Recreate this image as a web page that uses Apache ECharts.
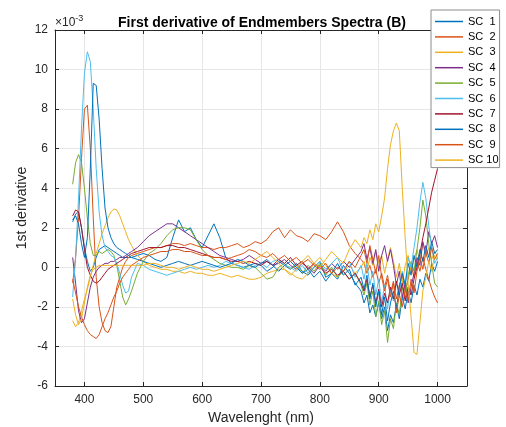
<!DOCTYPE html>
<html>
<head>
<meta charset="utf-8">
<script src="https://cdn.jsdelivr.net/npm/echarts@6/dist/echarts.min.js"></script>
<style>
html,body{margin:0;padding:0;background:#fff;}
#chart{width:506px;height:427px;}
</style>
</head>
<body>
<div id="chart"></div>
<script>
// Wavelength grid (nm)
const wavelengths = [
  380,385,390,395,400,405,410,415,420,425,430,435,440,445,450,455,460,465,470,475,480,
  490,500,510,520,530,540,550,560,570,580,590,600,610,620,630,640,650,660,670,680,690,700,710,720,730,740,750,760,770,780,790,800,810,820,830,840,850,860,870,
  875,880,885,890,895,900,905,910,915,920,925,930,935,940,945,950,955,960,965,970,975,980,985,990,995,1000
];
// First derivative values (x 10^-3)
const sc1 = [
  2.3,2.7,2.8,2.0,1.0,0.3,-0.2,0.0,0.5,0.9,1.0,1.1,1.0,0.9,0.8,0.7,0.6,0.5,0.5,0.5,0.5,
  0.6,0.7,0.6,0.4,0.3,0.5,1.5,2.4,1.8,2.0,1.4,1.0,1.6,2.2,1.5,0.5,0.2,0.1,0.0,0.1,0.2,0.1,-0.2,0.0,0.3,0.1,-0.1,0.2,-0.2,-0.4,0.0,0.3,-0.5,-0.3,-0.6,0.1,-0.3,-0.8,-1.2,
  -1.8,-1.4,-2.3,-1.9,-2.5,-1.8,-2.6,-2.0,-3.2,-2.4,-2.8,-1.9,-2.6,-1.5,-2.1,-1.2,-1.8,-0.9,-1.4,-0.6,-1.0,-0.3,-0.7,0.2,-0.2,0.3
];
const sc2 = [
  -0.8,0.5,2.5,5.5,8.0,8.2,6.0,2.5,-0.5,-2.0,-2.8,-3.2,-3.3,-3.0,-2.0,-1.0,-0.5,0.0,0.3,0.5,0.6,
  0.7,0.8,0.9,1.0,1.0,1.1,1.2,1.2,1.1,1.2,1.1,1.0,1.0,0.9,1.0,1.0,1.1,1.2,1.0,1.1,1.3,1.2,1.4,1.8,2.0,1.5,1.9,1.6,1.5,1.3,1.7,1.6,1.4,1.8,2.3,1.8,1.1,0.7,0.4,
  0.2,-0.3,0.1,-0.5,-0.1,-0.8,-0.3,-1.0,-0.4,-1.3,-0.7,-1.6,-0.9,-0.4,-1.2,-0.6,0.1,-0.5,0.3,-0.2,0.5,-0.1,-0.6,-1.1,-1.5,-1.8
];
const sc3 = [
  -2.7,-3.0,-2.8,-2.2,-1.6,-1.1,-0.5,0.1,0.7,1.2,1.7,2.1,2.5,2.8,2.95,2.9,2.6,2.2,1.8,1.4,1.1,
  0.6,0.3,0.1,0.0,-0.1,-0.1,-0.2,-0.2,-0.3,-0.2,-0.3,-0.3,-0.4,-0.4,-0.3,-0.4,-0.5,-0.4,-0.5,-0.6,-0.6,-0.5,-0.3,-0.2,-0.1,-0.1,-0.3,-0.5,-0.6,-0.3,0.2,0.5,0.1,-0.3,-0.5,-0.2,0.1,-0.3,0.0,
  0.3,-0.2,0.5,0.1,0.8,0.2,0.6,-0.3,0.4,1.0,0.3,-0.5,0.2,-0.8,0.1,0.6,-0.2,0.4,0.9,0.3,1.2,0.5,1.0,0.4,0.8,0.5
];
const sc4 = [
  0.5,-0.8,-2.2,-2.8,-2.6,-1.8,-1.0,-0.5,-0.2,0.0,0.1,0.2,0.2,0.3,0.3,0.4,0.5,0.5,0.6,0.7,0.8,
  1.0,1.3,1.6,1.8,2.0,2.2,2.2,2.0,1.8,1.6,1.4,1.2,1.0,0.8,0.6,0.5,0.4,0.3,0.4,0.6,0.4,0.2,0.3,0.1,0.2,0.4,0.1,-0.1,0.2,0.0,-0.3,0.1,-0.2,0.2,-0.1,0.3,0.0,0.4,0.8,
  1.2,0.4,1.0,0.2,0.9,-0.2,0.6,1.1,0.3,0.9,0.1,-0.9,-0.2,-1.5,-0.8,-1.8,-1.0,-0.3,0.5,0.1,1.3,0.7,1.8,1.2,1.6,1.0
];
const sc5 = [
  4.2,5.3,5.7,5.3,4.0,2.5,1.2,0.6,0.6,0.8,0.7,0.8,0.9,0.8,0.6,0.1,-0.7,-1.5,-1.9,-1.6,-1.2,
  -0.3,0.3,0.7,0.9,1.2,1.6,1.9,2.0,2.0,1.9,1.4,0.9,0.6,0.4,0.2,0.1,0.0,0.0,-0.1,0.1,0.0,-0.3,-0.6,-0.5,0.0,0.2,-0.1,0.1,-0.3,0.1,-0.2,0.2,-0.4,0.0,-0.5,-0.2,-0.6,-0.3,-0.9,
  -1.4,-0.8,-1.9,-1.2,-2.5,-1.7,-2.9,-2.2,-3.8,-2.6,-3.1,-1.8,-2.4,-1.0,-1.6,-0.4,0.3,-0.2,0.9,2.0,3.4,2.6,1.2,0.2,-0.8,-1.0
];
const sc6 = [
  -1.5,0.5,3.5,7.0,9.8,10.9,10.4,8.0,5.0,2.8,1.6,1.0,0.8,0.6,0.5,0.2,-0.3,-0.9,-1.3,-1.2,-0.5,
  0.2,0.1,-0.1,-0.2,-0.3,-0.4,-0.3,-0.2,-0.1,0.0,-0.1,0.0,0.1,0.0,0.1,0.3,0.2,0.1,0.0,-0.1,0.1,0.2,0.0,0.3,0.4,0.1,0.0,-0.2,0.1,-0.3,0.0,0.3,-0.1,0.2,0.5,-0.2,0.3,-0.5,0.1,
  -0.6,0.2,-0.9,-0.2,-1.4,-0.6,-1.8,-0.9,-2.1,-1.1,-1.7,-0.8,-1.3,-0.2,-0.9,0.5,0.0,1.0,2.0,3.3,4.3,3.5,2.1,1.0,0.2,0.5
];
const sc7 = [
  2.6,2.9,2.8,2.0,0.9,0.0,-0.4,-0.7,-0.8,-0.7,-0.5,-0.3,-0.1,0.0,0.1,0.2,0.3,0.4,0.5,0.6,0.7,
  0.8,0.9,1.0,1.0,1.0,1.1,1.1,1.0,1.0,0.9,0.8,0.7,0.6,0.5,0.5,0.4,0.3,0.3,0.2,0.3,0.2,0.1,0.3,0.1,0.4,0.2,0.5,0.1,0.3,-0.1,0.2,0.0,-0.3,-0.1,-0.4,-0.2,-0.6,-0.3,-0.8,
  -1.2,-0.6,-1.5,-0.9,-1.8,-1.1,-2.0,-1.3,-1.8,-1.0,-1.6,-0.7,-1.4,-0.8,-1.7,-1.0,-1.4,-0.6,0.0,0.7,1.5,2.2,3.0,3.8,4.4,5.0
];
const sc8 = [
  2.4,2.6,2.2,1.2,0.5,1.5,5.0,9.3,9.2,7.5,5.0,3.0,2.0,1.5,1.2,1.0,0.9,0.8,0.7,0.6,0.5,
  0.4,0.3,0.2,0.1,0.0,0.1,0.2,0.3,0.2,0.1,0.2,0.3,0.2,0.1,0.0,0.1,0.2,0.4,0.3,0.1,0.0,0.2,0.4,0.1,-0.2,0.1,0.3,0.0,-0.3,-0.1,-0.5,-0.2,-0.7,-0.3,0.2,-0.4,-0.1,-0.9,-0.5,
  -1.1,-0.4,-1.6,-0.8,-2.0,-1.2,-2.4,-1.5,-2.7,-1.8,-1.2,-2.1,-1.0,-0.3,-0.9,0.2,-0.4,0.6,0.0,0.9,0.3,1.1,0.5,1.3,0.7,0.9
];
const sc9 = [
  -0.6,-1.3,-2.0,-2.5,-2.9,-3.2,-3.4,-3.5,-3.6,-3.4,-3.0,-2.6,-2.3,-1.9,-1.5,-1.2,-0.8,-0.5,-0.3,-0.1,0.1,
  0.3,0.5,0.6,0.7,0.8,0.8,0.9,0.9,0.8,0.8,0.7,0.6,0.6,0.5,0.5,0.4,0.5,0.6,0.7,0.9,0.8,0.6,0.5,0.7,0.4,0.6,0.3,0.5,0.2,0.4,0.1,-0.1,0.2,-0.3,0.0,-0.2,0.3,0.0,0.6,
  0.9,0.2,1.1,0.4,-0.3,0.6,-0.5,-1.2,-0.6,-1.5,-0.8,-2.3,-1.4,-2.0,-1.1,-1.7,-0.6,-1.3,-0.2,0.5,-0.1,0.8,0.2,1.0,0.4,0.7
];
const sc10 = [
  -1.6,-2.4,-2.9,-2.6,-1.8,-1.0,-0.4,-0.1,0.0,0.1,0.1,0.1,0.1,0.1,0.1,0.1,0.1,0.1,0.1,0.1,0.1,
  0.1,0.1,0.2,0.2,0.1,0.0,0.0,-0.1,0.0,0.1,0.0,-0.1,-0.1,-0.2,-0.1,0.0,0.1,0.2,0.3,0.2,0.4,0.6,0.8,0.5,0.2,-0.1,-0.4,-0.1,0.3,0.6,0.2,0.0,0.4,0.8,0.5,0.2,0.9,1.4,1.0,
  1.5,1.2,1.9,1.4,2.2,1.8,2.6,3.5,5.0,6.2,6.9,7.3,6.9,4.0,1.5,-0.8,-2.5,-4.3,-4.4,-2.8,-1.2,-0.5,0.3,-0.2,0.6,0.4
];
const seriesNames = ['SC  1','SC  2','SC  3','SC  4','SC  5','SC  6','SC  7','SC  8','SC  9','SC 10'];
const seriesValues = [sc1, sc2, sc3, sc4, sc5, sc6, sc7, sc8, sc9, sc10];
const seriesColors = ['#0072BD','#D95319','#EDB120','#7E2F8E','#77AC30','#4DBEEE','#A2142F','#0072BD','#D95319','#EDB120'];
const xTicks = [400, 500, 600, 700, 800, 900, 1000];

const chart = echarts.init(document.getElementById('chart'), null, {renderer: 'canvas'});
const FONT = 'Liberation Sans, Arial, Helvetica, sans-serif';
const AX = '#262626';

const series = seriesValues.map((vals, k) => ({
  name: seriesNames[k],
  type: 'line',
  showSymbol: false,
  symbol: 'none',
  lineStyle: {width: 1, color: seriesColors[k]},
  itemStyle: {color: seriesColors[k]},
  data: vals.map((v, i) => [wavelengths[i], v]),
  animation: false,
  z: 2
}));

chart.setOption({
  animation: false,
  backgroundColor: '#fff',
  title: {
    text: 'First derivative of Endmembers Spectra (B)',
    left: 257, top: 11, textAlign: 'center',
    textStyle: {fontFamily: FONT, fontSize: 14, fontWeight: 'bold', color: '#000'}
  },
  grid: {left: 55, right: 39, top: 30, bottom: 41, containLabel: false, outerBoundsMode: 'none'},
  legend: {
    orient: 'vertical', left: 431, top: 10,
    padding: [6, 1, 2, 4], itemGap: 4.4,
    itemWidth: 28, itemHeight: 1.5,
    icon: 'rect',
    backgroundColor: '#fff', borderColor: '#8c8c8c', borderWidth: 1,
    textStyle: {fontFamily: FONT, fontSize: 11, color: '#000'},
    data: seriesNames
  },
  xAxis: [{
    type: 'value', min: 350, max: 1050, position: 'bottom',
    name: 'Wavelenght (nm)', nameLocation: 'middle', nameGap: 24,
    nameTextStyle: {fontFamily: FONT, fontSize: 14, color: AX},
    axisLine: {show: true, onZero: false, lineStyle: {color: AX, width: 1}},
    axisTick: {show: true, inside: true, length: 4, customValues: xTicks, lineStyle: {color: AX}},
    axisLabel: {customValues: xTicks, fontFamily: FONT, fontSize: 12, color: AX, margin: 8,
      formatter: v => String(v)},
    splitLine: {show: true, lineStyle: {color: '#e6e6e6', width: 1}}
  }, {
    type: 'value', min: 350, max: 1050, position: 'top',
    axisLine: {show: true, onZero: false, lineStyle: {color: AX, width: 1}},
    axisTick: {show: true, inside: true, length: 4, customValues: xTicks, lineStyle: {color: AX}},
    axisLabel: {show: false},
    splitLine: {show: false}
  }],
  yAxis: [{
    type: 'value', min: -6, max: 12, interval: 2, position: 'left',
    name: '1st derivative', nameLocation: 'middle', nameGap: 26, nameMoveOverlap: false,
    nameTextStyle: {fontFamily: FONT, fontSize: 14, color: AX},
    axisLine: {show: true, onZero: false, lineStyle: {color: AX, width: 1}},
    axisTick: {show: true, inside: true, length: 4, lineStyle: {color: AX}},
    axisLabel: {fontFamily: FONT, fontSize: 12, color: AX, margin: 7},
    splitLine: {show: true, lineStyle: {color: '#e6e6e6', width: 1}}
  }, {
    type: 'value', min: -6, max: 12, interval: 2, position: 'right',
    axisLine: {show: true, onZero: false, lineStyle: {color: AX, width: 1}},
    axisTick: {show: true, inside: true, length: 4, lineStyle: {color: AX}},
    axisLabel: {show: false},
    splitLine: {show: false}
  }],
  graphic: [{
    type: 'text', left: 55, top: 14, z: 10,
    style: {
      text: '×10{s|-3}',
      rich: {s: {fontSize: 9, verticalAlign: 'top', padding: [0, 0, 8, 0], fontFamily: FONT, fill: AX}},
      fontFamily: FONT, fontSize: 12, fill: AX
    }
  }],
  series: series
});
</script>
</body>
</html>
